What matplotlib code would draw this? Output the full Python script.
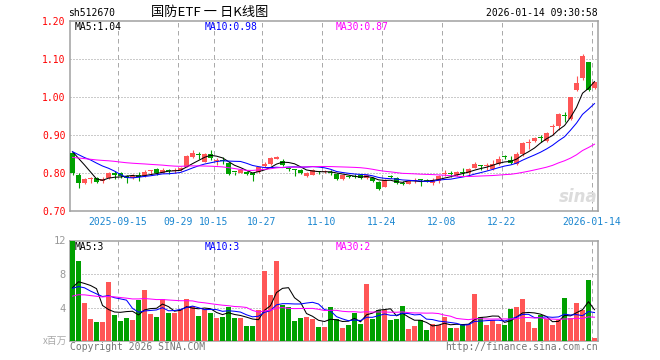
import matplotlib
matplotlib.use("Agg")
import matplotlib.pyplot as plt
import numpy as np
import pandas as pd

plt.rcParams['font.family'] = ['DejaVu Sans Mono', 'Noto Sans CJK SC']

# ---------------- data ----------------
opens = [0.852, 0.795, 0.773, 0.783, 0.786, 0.780, 0.786, 0.799, 0.799, 0.792,
         0.788, 0.796, 0.792, 0.804, 0.810, 0.801, 0.808, 0.805, 0.808, 0.8165,
         0.8428, 0.8498, 0.8297, 0.8498, 0.8323, 0.8323, 0.827, 0.8025, 0.8008, 0.8034,
         0.797, 0.8016, 0.819, 0.8235, 0.838, 0.8323, 0.8125, 0.8095, 0.8078, 0.792,
         0.796, 0.804, 0.802, 0.803, 0.7975, 0.7844, 0.7915, 0.793, 0.7958, 0.787,
         0.787, 0.7756, 0.763, 0.792, 0.787, 0.774, 0.771, 0.779, 0.783, 0.782,
         0.774, 0.778, 0.798, 0.800, 0.794, 0.801, 0.800, 0.8136, 0.8205, 0.8195,
         0.811, 0.824, 0.844, 0.8355, 0.825, 0.849, 0.879, 0.8837, 0.893, 0.8837,
         0.921, 0.923, 0.950, 0.9424, 1.018, 1.050, 1.092, 1.024]
closes = [0.801, 0.773, 0.783, 0.788, 0.777, 0.783, 0.801, 0.795, 0.792, 0.788,
          0.792, 0.790, 0.803, 0.806, 0.801, 0.809, 0.805, 0.808, 0.812, 0.8446,
          0.8533, 0.8463, 0.8498, 0.8384, 0.834, 0.8305, 0.7973, 0.8016, 0.8078, 0.7973,
          0.796, 0.8148, 0.825, 0.8384, 0.843, 0.821, 0.811, 0.808, 0.799, 0.8008,
          0.8078, 0.803, 0.805, 0.800, 0.7844, 0.794, 0.7897, 0.790, 0.787, 0.794,
          0.780, 0.759, 0.782, 0.790, 0.774, 0.772, 0.780, 0.780, 0.781, 0.780,
          0.781, 0.791, 0.800, 0.798, 0.803, 0.800, 0.811, 0.825, 0.8195, 0.8205,
          0.825, 0.8373, 0.843, 0.8267, 0.850, 0.879, 0.881, 0.8924, 0.892, 0.9056,
          0.922, 0.9555, 0.949, 0.9993, 1.037, 1.109, 1.019, 1.039]
highs = [0.856, 0.799, 0.786, 0.790, 0.789, 0.790, 0.802, 0.805, 0.802, 0.795,
         0.797, 0.803, 0.808, 0.808, 0.813, 0.812, 0.810, 0.812, 0.815, 0.847,
         0.860, 0.856, 0.852, 0.860, 0.8384, 0.843, 0.828, 0.8034, 0.809, 0.805,
         0.799, 0.816, 0.828, 0.842, 0.845, 0.836, 0.8165, 0.8095, 0.810, 0.802,
         0.810, 0.806, 0.807, 0.807, 0.800, 0.796, 0.796, 0.797, 0.798, 0.797,
         0.789, 0.778, 0.785, 0.794, 0.789, 0.778, 0.782, 0.787, 0.783, 0.785,
         0.787, 0.794, 0.808, 0.804, 0.805, 0.812, 0.813, 0.829, 0.822, 0.827,
         0.835, 0.846, 0.848, 0.844, 0.855, 0.882, 0.890, 0.895, 0.901, 0.908,
         0.929, 0.958, 0.961, 0.9993, 1.056, 1.113, 1.092, 1.040]
lows = [0.795, 0.760, 0.770, 0.775, 0.774, 0.775, 0.783, 0.783, 0.786, 0.775,
        0.785, 0.780, 0.789, 0.795, 0.794, 0.799, 0.797, 0.800, 0.805, 0.815,
        0.840, 0.838, 0.828, 0.834, 0.821, 0.8235, 0.795, 0.7946, 0.799, 0.795,
        0.780, 0.800, 0.817, 0.821, 0.836, 0.818, 0.806, 0.793, 0.797, 0.790,
        0.794, 0.798, 0.800, 0.794, 0.7826, 0.7826, 0.787, 0.786, 0.785, 0.785,
        0.776, 0.756, 0.763, 0.787, 0.772, 0.768, 0.770, 0.774, 0.765, 0.777,
        0.769, 0.774, 0.791, 0.789, 0.791, 0.792, 0.796, 0.812, 0.809, 0.809,
        0.809, 0.822, 0.836, 0.825, 0.822, 0.846, 0.864, 0.881, 0.881, 0.881,
        0.900, 0.914, 0.933, 0.9406, 1.016, 1.046, 1.015, 1.022]
# volume, millions of shares
volumes = [12.3, 9.5, 4.56, 2.6, 2.28, 2.28, 7.08, 3.08, 2.4, 2.72,
           2.48, 4.88, 6.08, 3.2, 2.88, 5.0, 3.36, 3.36, 3.76, 5.0,
           4.16, 2.96, 3.8, 3.36, 2.76, 2.88, 4.08, 2.76, 2.76, 1.76,
           1.76, 3.68, 8.4, 5.48, 9.6, 4.28, 4.08, 2.4, 2.76, 2.88,
           2.64, 1.68, 1.68, 4.08, 2.6, 1.6, 1.88, 3.36, 2.0, 6.8,
           2.6, 3.68, 3.68, 2.48, 2.6, 4.16, 1.4, 1.76, 2.48, 1.28,
           2.08, 1.88, 2.88, 1.56, 1.6, 1.88, 2.08, 5.6, 2.88, 1.88,
           2.48, 2.0, 1.88, 3.8, 4.08, 5.0, 2.28, 1.6, 3.08, 2.68,
           1.88, 2.48, 5.16, 2.8, 4.56, 3.68, 7.28, 0.36]
# sessions before the visible window (only feed the moving averages)
pre_closes = [0.82, 0.83, 0.84, 0.83, 0.82, 0.83, 0.84, 0.85, 0.84, 0.83,
              0.82, 0.83, 0.84, 0.83, 0.84, 0.85, 0.84, 0.83, 0.82, 0.84,
              0.85, 0.86, 0.85, 0.86, 0.86, 0.86, 0.87, 0.88, 0.869]
pre_volumes = [4.5, 5.0, 5.2, 4.8, 4.6, 5.1, 4.9, 4.7, 5.0, 5.3,
               4.8, 4.6, 5.0, 4.9, 4.7, 5.1, 4.8, 5.0, 4.9, 4.9,
               7.5, 6.0, 6.5, 5.6, 5.5, 6.0, 5.56, 3.8, 4.2]
date_idx = [8, 18, 24, 32, 42, 52, 62, 72, 87]
date_labels = ['2025-09-15', '09-29', '10-15', '10-27', '11-10', '11-24',
               '12-08', '12-22', '2026-01-14']
price_ticks = [0.70, 0.80, 0.90, 1.00, 1.10, 1.20]
vol_ticks = [4, 8, 12]
ma_periods = [5, 10, 30]
ma_colors = ['#000000', '#0000ff', '#ff00ff']
price_ma_text = ['MA5:1.04', 'MA10:0.98', 'MA30:0.87']
vol_ma_text = ['MA5:3', 'MA10:3', 'MA30:2']

# ---------------- figure ----------------
W, H = 660, 360
fig = plt.figure(figsize=(W / 100, H / 100), dpi=100)
fig.patch.set_facecolor('white')


def rect(l, t, r, b):
    return [l / W, 1 - b / H, (r - l) / W, (b - t) / H]


UP, DN = '#ff5656', '#00a000'
FRAME = '#a0a0a0'
N = len(closes)
x = np.arange(N)
xc = x + 2.5 / 6
o = np.array(opens); c = np.array(closes)
hi = np.array(highs); lo = np.array(lows)
up = c >= o
cols = np.where(up, UP, DN)

ax = fig.add_axes(rect(70, 21, 598, 211))
axv = fig.add_axes(rect(70, 240.5, 598, 341))

for a in (ax, axv):
    a.set_xlim(0, N)
    for s in a.spines.values():
        s.set_color(FRAME)
        s.set_linewidth(1.1)
    for d in date_idx:
        a.axvline(d, color='#aaaaaa', lw=0.72, ls=(0, (4.5, 3.5)), zorder=0.5)

# price panel
ax.set_ylim(0.70, 1.20)
for p in price_ticks[1:-1]:
    ax.axhline(p, color='#999999', lw=0.72, ls=(0, (1, 2)), zorder=0.5)
ax.vlines(xc, lo, hi, colors=cols, lw=0.8, zorder=2)
body_lo = np.minimum(o, c)
body_h = np.maximum(np.abs(c - o), 0.0028)
ax.bar(x, body_h, width=5 / 6, bottom=body_lo, align='edge', color=cols,
       linewidth=0, zorder=3)

all_c = pd.Series(pre_closes + closes)
all_v = pd.Series(pre_volumes + volumes)
k = len(pre_closes)
for per, col in zip(ma_periods, ma_colors):
    ax.plot(xc, all_c.rolling(per).mean().values[k:], color=col, lw=0.75, zorder=4)
    axv.plot(xc, all_v.rolling(per).mean().values[k:], color=col, lw=0.75, zorder=4)

ax.set_yticks(price_ticks)
ax.set_yticklabels(['%.2f' % p for p in price_ticks], color='#ff0000', fontsize=7)
ax.set_xticks(date_idx)
ax.set_xticklabels(date_labels, color='#1a86d0', fontsize=7)
ax.tick_params(length=0, pad=3)
ax.tick_params(axis='x', pad=4)

# volume panel
axv.set_ylim(0, 12)
for v in vol_ticks[:-1]:
    axv.axhline(v, color='#999999', lw=0.72, ls=(0, (1, 2)), zorder=0.5)
axv.bar(x, volumes, width=5 / 6, align='edge', color=cols, linewidth=0, zorder=3)
axv.set_yticks(vol_ticks)
axv.set_yticklabels([str(v) for v in vol_ticks], color='#999999', fontsize=7.5)
axv.set_xticks([])
axv.tick_params(length=0, pad=3)
fig.text(67 / W, 1 - 341 / H, 'x百万', ha='right', va='center', fontsize=7,
         color='#aaaaaa', family=['Noto Sans CJK SC'])

# legends
for xpix, txt, col in zip([75, 205, 336], price_ma_text, ma_colors):
    fig.text(xpix / W, 1 - 27.5 / H, txt, ha='left', va='center', fontsize=7, color=col)
for xpix, txt, col in zip([75, 205, 336], vol_ma_text, ma_colors):
    fig.text(xpix / W, 1 - 246.5 / H, txt, ha='left', va='center', fontsize=7, color=col)

# titles
fig.text(68 / W, 1 - 12.5 / H, 'sh512670', ha='left', va='center', fontsize=7, color='#000000')
fig.text(151 / W, 1 - 12.5 / H, '国防ETF 一 日K线图', ha='left', va='center', fontsize=9.5,
         color='#000000', family=['Noto Sans CJK SC', 'DejaVu Sans'])
fig.text(598 / W, 1 - 12.5 / H, '2026-01-14 09:30:58', ha='right', va='center',
         fontsize=7, color='#000000')
fig.text(70 / W, 1 - 347.5 / H, 'Copyright 2026 SINA.COM', ha='left', va='center',
         fontsize=7, color='#777777')
fig.text(598 / W, 1 - 347.5 / H, 'http://finance.sina.com.cn', ha='right', va='center',
         fontsize=7, color='#777777')
# faint sina watermark
fig.text(578 / W, 1 - 197 / H, 'sina', ha='center', va='center', fontsize=12,
         color='#dcdcdc', style='italic', weight='bold', family=['DejaVu Sans'], zorder=0)

fig.savefig('out.png', dpi=100, facecolor='white')
